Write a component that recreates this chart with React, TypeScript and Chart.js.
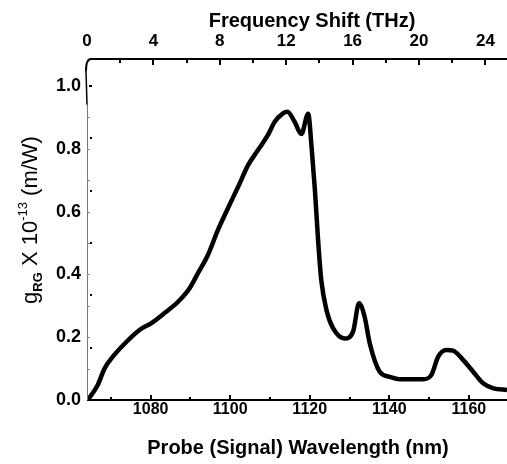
import React, { useEffect, useRef } from "react";
import { Chart, registerables } from "chart.js";

Chart.register(...registerables);

// ---- data ----
const wavelengthsNm = [
  1064.2, 1066.7, 1068.4, 1070.5, 1073.5, 1077.2, 1080.2, 1083.5, 1086.9, 1089.8,
  1091.9, 1094.4, 1096.9, 1099.4, 1102.0, 1104.5, 1107.0, 1109.5, 1111.2, 1113.2,
  1114.4, 1116.2, 1117.9, 1119.6, 1120.5, 1121.3, 1122.1, 1122.9, 1124.2, 1125.9,
  1128.8, 1130.9, 1132.4, 1133.8, 1135.1, 1137.6, 1140.1, 1142.6, 1148.5, 1150.6,
  1152.3, 1154.4, 1156.0, 1158.6, 1161.1, 1163.6, 1166.2, 1169.6,
];
const ramanGain = [
  0.0, 0.048, 0.1, 0.138, 0.18, 0.223, 0.245, 0.277, 0.313, 0.356,
  0.404, 0.462, 0.541, 0.61, 0.679, 0.748, 0.796, 0.844, 0.886, 0.912,
  0.918, 0.886, 0.847, 0.912, 0.8, 0.669, 0.51, 0.382, 0.287, 0.228,
  0.196, 0.218, 0.308, 0.265, 0.18, 0.09, 0.074, 0.066, 0.066, 0.08,
  0.138, 0.159, 0.157, 0.127, 0.09, 0.053, 0.037, 0.032,
];

const xMajorTicks = [1080, 1100, 1120, 1140, 1160];
const xMinorTicks = [1070, 1090, 1110, 1130, 1150];
const topMajorTicks = [0, 4, 8, 12, 16, 20, 24];
const topMinorTicks = [2, 6, 10, 14, 18, 22];
const yMajorTicks = [0, 0.2, 0.4, 0.6, 0.8, 1.0];
const yGrayTicks = [0.1, 0.2, 0.3, 0.4, 0.5, 0.6, 0.7, 0.8, 0.9];
const yDotTicks = [1 / 6, 2 / 6, 3 / 6, 4 / 6, 5 / 6];

const xTitle = "Probe (Signal) Wavelength (nm)";
const topTitle = "Frequency Shift (THz)";

const FONT = "'Liberation Sans', Arial, sans-serif";

const axesPlugin = {
  id: "axesPlugin",
  afterDraw(chart: any) {
    const ctx = chart.ctx;
    const { left, right, top, bottom } = chart.chartArea;
    const xs = chart.scales.x;
    const xt = chart.scales.x2;
    const ys = chart.scales.y;
    ctx.save();
    // bottom axis
    ctx.strokeStyle = "#000";
    ctx.lineWidth = 2;
    ctx.beginPath();
    ctx.moveTo(left, bottom);
    ctx.lineTo(right, bottom);
    ctx.stroke();
    // top axis with rounded corner
    ctx.beginPath();
    ctx.moveTo(left - 1, top + 12);
    ctx.quadraticCurveTo(left - 1, top, left + 4, top);
    ctx.lineTo(right, top);
    ctx.stroke();
    // left axis (gray lower, black upper)
    ctx.lineWidth = 1;
    ctx.strokeStyle = "#777";
    ctx.beginPath();
    ctx.moveTo(left + 0.5, bottom);
    ctx.lineTo(left + 0.5, ys.getPixelForValue(0.94));
    ctx.stroke();
    ctx.strokeStyle = "#000";
    ctx.lineWidth = 1.5;
    ctx.beginPath();
    ctx.moveTo(left, ys.getPixelForValue(0.94));
    ctx.lineTo(left - 1, top + 12);
    ctx.stroke();
    // bottom ticks
    ctx.strokeStyle = "#000";
    ctx.lineWidth = 2;
    for (const v of xMajorTicks) {
      const px = Math.round(xs.getPixelForValue(v));
      ctx.beginPath();
      ctx.moveTo(px, bottom);
      ctx.lineTo(px, bottom - 5);
      ctx.stroke();
    }
    for (const v of xMinorTicks) {
      const px = Math.round(xs.getPixelForValue(v));
      ctx.beginPath();
      ctx.moveTo(px, bottom);
      ctx.lineTo(px, bottom - 3);
      ctx.stroke();
    }
    // top ticks
    for (const v of topMajorTicks) {
      if (v === 0) continue;
      const px = Math.round(xt.getPixelForValue(v));
      ctx.beginPath();
      ctx.moveTo(px, top);
      ctx.lineTo(px, top + 6);
      ctx.stroke();
    }
    for (const v of topMinorTicks) {
      const px = Math.round(xt.getPixelForValue(v));
      ctx.beginPath();
      ctx.moveTo(px, top);
      ctx.lineTo(px, top + 4);
      ctx.stroke();
    }
    // y ticks
    ctx.strokeStyle = "#888";
    ctx.lineWidth = 1;
    for (const v of yGrayTicks) {
      const py = Math.round(ys.getPixelForValue(v)) + 0.5;
      ctx.beginPath();
      ctx.moveTo(left, py);
      ctx.lineTo(left + 3, py);
      ctx.stroke();
    }
    ctx.fillStyle = "#000";
    for (const v of yDotTicks) {
      const py = Math.round(ys.getPixelForValue(v));
      ctx.fillRect(left + 3, py - 1, 2, 2);
    }
    ctx.fillRect(left + 2, Math.round(ys.getPixelForValue(1.0)) - 1, 3, 2);

    // titles
    ctx.fillStyle = "#000";
    ctx.textAlign = "center";
    ctx.textBaseline = "middle";
    ctx.font = `bold 20px ${FONT}`;
    ctx.fillText(xTitle, 298, 448);
    ctx.fillText(topTitle, 312, 21);

    // y title with sub/superscripts
    const parts = [
      { t: "g", font: `22px ${FONT}`, dy: 0 },
      { t: "RG", font: `bold 13px ${FONT}`, dy: 5 },
      { t: " X 10", font: `22px ${FONT}`, dy: 0 },
      { t: "-13", font: `13px ${FONT}`, dy: -10 },
      { t: " (m/W)", font: `22px ${FONT}`, dy: 0 },
    ];
    let total = 0;
    for (const p of parts) {
      ctx.font = p.font;
      total += ctx.measureText(p.t).width;
    }
    ctx.translate(37, 220);
    ctx.rotate(-Math.PI / 2);
    ctx.textAlign = "left";
    ctx.textBaseline = "alphabetic";
    let x = -total / 2;
    for (const p of parts) {
      ctx.font = p.font;
      ctx.fillText(p.t, x, p.dy);
      x += ctx.measureText(p.t).width;
    }
    ctx.restore();
  },
};

export default function App() {
  const ref = useRef<HTMLCanvasElement | null>(null);
  useEffect(() => {
    if (!ref.current) return;
    const chart = new Chart(ref.current, {
      type: "line",
      data: {
        datasets: [
          {
            data: wavelengthsNm.map((x, i) => ({ x, y: ramanGain[i] })),
            borderColor: "#000",
            borderWidth: 4.5,
            pointRadius: 0,
            cubicInterpolationMode: "monotone",
            fill: false,
            xAxisID: "x",
            yAxisID: "y",
          },
        ],
      },
      options: {
        responsive: false,
        animation: false,
        layout: { padding: 0 },
        plugins: { legend: { display: false }, tooltip: { enabled: false } },
        scales: {
          x: {
            type: "linear",
            position: "bottom",
            min: 1064,
            max: 1169.6,
            afterBuildTicks: (s: any) => {
              s.ticks = xMajorTicks.map((v) => ({ value: v }));
            },
            afterFit: (s: any) => {
              s.height = 64;
            },
            grid: { display: false, drawTicks: false },
            border: { display: false },
            ticks: {
              color: "#000",
              font: { family: FONT, size: 16, weight: "bold" },
              padding: 0,
              maxRotation: 0,
              callback: (v: any) => String(v),
            },
          },
          x2: {
            type: "linear",
            position: "top",
            min: 0,
            max: 25.3,
            afterBuildTicks: (s: any) => {
              s.ticks = topMajorTicks.map((v) => ({ value: v }));
            },
            afterFit: (s: any) => {
              s.height = 59;
            },
            grid: { display: false, drawTicks: false },
            border: { display: false },
            ticks: {
              color: "#000",
              font: { family: FONT, size: 17, weight: "bold" },
              padding: 7,
              maxRotation: 0,
              callback: (v: any) => String(v),
            },
          },
          y: {
            type: "linear",
            position: "left",
            min: 0,
            max: 1.086,
            afterBuildTicks: (s: any) => {
              s.ticks = yMajorTicks.map((v) => ({ value: v }));
            },
            afterFit: (s: any) => {
              s.width = 87;
            },
            grid: { display: false, drawTicks: false },
            border: { display: false },
            ticks: {
              color: "#000",
              font: { family: FONT, size: 18, weight: "bold" },
              padding: 6,
              callback: (v: any) => Number(v).toFixed(1),
            },
          },
        },
      },
      plugins: [axesPlugin],
    } as any);
    return () => chart.destroy();
  }, []);
  return (
    <div style={{ position: "fixed", left: 0, top: 0, width: 507, height: 464, background: "#fff" }}>
      <canvas ref={ref} width={507} height={464} />
    </div>
  );
}
